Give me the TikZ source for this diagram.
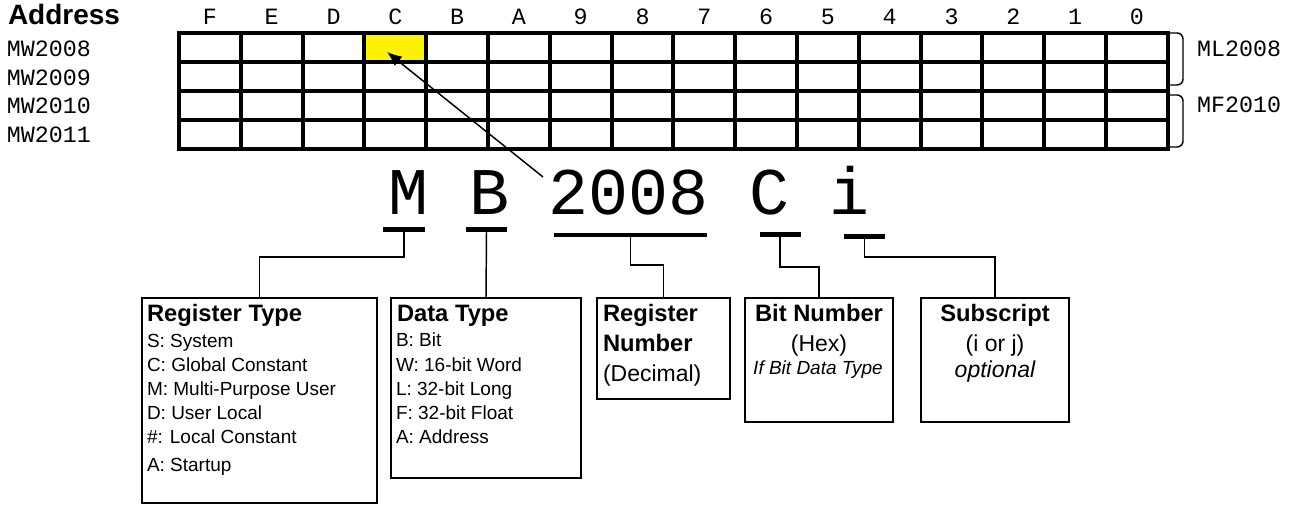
\documentclass[tikz,border=0pt]{standalone}
\usepackage{fontspec}
\setmainfont{Liberation Sans}
\newfontfamily\monofont{Liberation Mono}
\usetikzlibrary{arrows.meta}

\tikzset{
  every node/.style={inner sep=0pt, outer sep=0pt},
  gridline/.style={line width=3pt, line cap=rect},
  monolabel/.style={font=\monofont\fontsize{17.5}{20}\selectfont},
  bigchar/.style={font=\monofont\fontsize{50}{60}\selectfont, anchor=base},
  bar/.style={fill=black, minimum height=3.3pt},
  link/.style={line width=1.1pt},
  infobox/.style={draw, line width=1.4pt, anchor=north west},
  boxtitle/.style={font=\bfseries\fontsize{17.8}{20}\selectfont},
  boxbody/.style={font=\fontsize{14.25}{17}\selectfont, anchor=base west},
  boxlarge/.style={font=\fontsize{17.25}{20}\selectfont},
  bracket/.style={line width=1.1pt, rounded corners=4.5pt},
}

\begin{document}
\begin{tikzpicture}[x=0.75pt, y=-0.75pt]
\useasboundingbox (0,0) rectangle (1290,505);

% ---------- register map ----------
\def\gx{179}\def\cw{61.8}\def\gy{33}\def\rh{29}
\node[fill=yellow, minimum width=46.35pt, minimum height=21.75pt, anchor=north west]
  (cellC) at (\gx+3*\cw,\gy) {};
\foreach \i in {0,...,16} \draw[gridline] (\gx+\i*\cw,\gy) -- (\gx+\i*\cw,\gy+4*\rh);
\foreach \j in {0,...,4} \draw[gridline] (\gx,\gy+\j*\rh) -- (\gx+16*\cw,\gy+\j*\rh);

\node[font=\bfseries\fontsize{21}{24}\selectfont, anchor=base west] (addr) at (8,25) {Address};

\foreach \c [count=\k from 0] in {F,E,D,C,B,A,9,8,7,6,5,4,3,2,1,0}
  \node[monolabel, anchor=base] (col\c) at (\gx+\k*\cw+0.5*\cw,25) {\c};

\node[monolabel, anchor=base west] (mw2008) at (7,57) {MW2008};
\node[monolabel, anchor=base west] (mw2009) at (7,85.5) {MW2009};
\node[monolabel, anchor=base west] (mw2010) at (7,114) {MW2010};
\node[monolabel, anchor=base west] (mw2011) at (7,143) {MW2011};

\draw[bracket] (1168,33) -- (1183,33) -- (1183,85) -- (1168,85);
\draw[bracket] (1168,95) -- (1183,95) -- (1183,147) -- (1168,147);
\node[monolabel, anchor=base west] (ml2008) at (1197,57) {ML2008};
\node[monolabel, anchor=base west] (mf2010) at (1197,113) {MF2010};

% ---------- address breakdown ----------
\node[bigchar] (chM) at (409,215) {M};
\node[bigchar] (chB) at (489,215) {B};
\node[bigchar] (chN) at (629,215) {2008};
\node[bigchar] (chC) at (769,215) {C};
\node[bigchar] (chI) at (849,215) {i};

\node[bar, minimum width=31.5pt] (barM) at (404,229.5) {};
\node[bar, minimum width=30.75pt] (barB) at (486.5,229.5) {};
\node[bar, minimum width=114.75pt] (barN) at (630.5,235) {};
\node[bar, minimum width=30.75pt] (barC) at (780,234.5) {};
\node[bar, minimum width=30.75pt] (barI) at (864.5,236.5) {};

\coordinate (arrowtail) at (543,177);
\coordinate (arrowtip) at (387,52);
\draw[link, -{Latex[length=11pt, width=9pt]}] (arrowtail) -- (arrowtip);

% ---------- description boxes ----------
\node[infobox, minimum width=176.25pt, minimum height=153.75pt] (regtype) at (142,298) {};
\node[infobox, minimum width=142.5pt, minimum height=135pt] (datatype) at (391,298) {};
\node[infobox, minimum width=99.75pt, minimum height=75.75pt] (regnum) at (597,298) {};
\node[infobox, minimum width=111pt, minimum height=93pt] (bitnum) at (745,298) {};
\node[infobox, minimum width=111pt, minimum height=93pt] (subscr) at (921,298) {};

\coordinate (elbowM) at (0,257);
\coordinate (elbowN) at (0,265);
\coordinate (elbowC) at (0,267);
\coordinate (elbowI) at (0,257);
\draw[link] (barM.south) -- (barM.south |- elbowM) -| (regtype.north);
\draw[link] (barB.south) -- (datatype.north);
\draw[link] (barN.south) -- (barN.south |- elbowN) -| (regnum.north);
\draw[link] (barC.south) -- (barC.south |- elbowC) -| (bitnum.north);
\draw[link] (barI.south) -- (barI.south |- elbowI) -| (subscr.north);

% Register Type
\node[boxtitle, anchor=base west] (rtT) at (147,322) {Register Type};
\node[boxbody] (rt1) at (147,348) {S: System};
\node[boxbody] (rt2) at (147,372) {C: Global Constant};
\node[boxbody] (rt3) at (147,396) {M: Multi-Purpose User};
\node[boxbody] (rt4) at (147,420) {D: User Local};
\node[boxbody] (rt5) at (147,444) {\#: Local Constant};
\node[boxbody] (rt6) at (147,472) {A: Startup};

% Data Type
\node[boxtitle, anchor=base west] (dtT) at (397,322) {Data Type};
\node[boxbody] (dt1) at (396,347) {B: Bit};
\node[boxbody] (dt2) at (396,372) {W: 16-bit Word};
\node[boxbody] (dt3) at (396,396) {L: 32-bit Long};
\node[boxbody] (dt4) at (396,420) {F: 32-bit Float};
\node[boxbody] (dt5) at (396,444) {A: Address};

% Register Number
\node[boxtitle, anchor=base west] (rnT1) at (603,322) {Register};
\node[boxtitle, anchor=base west] (rnT2) at (603,352) {Number};
\node[boxlarge, anchor=base west] (rn1) at (603,382) {(Decimal)};

% Bit Number
\node[boxtitle, anchor=base] (bnT) at (819,322) {Bit Number};
\node[boxlarge, anchor=base] (bn1) at (819,352) {(Hex)};
\node[font=\itshape\fontsize{14.25}{17}\selectfont, anchor=base] (bn2) at (818,375) {If Bit Data Type};

% Subscript
\node[boxtitle, anchor=base] (ssT) at (995,322) {Subscript};
\node[boxlarge, anchor=base] (ss1) at (995,352) {(i or j)};
\node[boxlarge, font=\itshape\fontsize{17.25}{20}\selectfont, anchor=base] (ss2) at (995,378) {optional};
\end{tikzpicture}
\end{document}
